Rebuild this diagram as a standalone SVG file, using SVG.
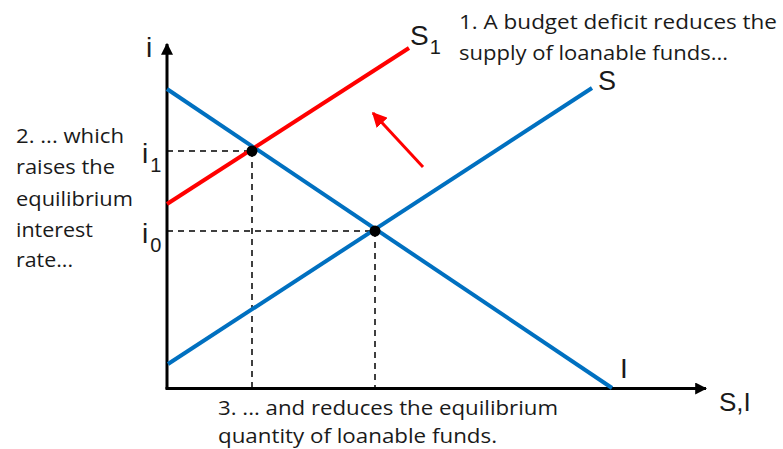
<svg xmlns="http://www.w3.org/2000/svg" width="783" height="449" viewBox="0 0 783 449">
<defs>
<marker id="ah" viewBox="0 0 10 10" refX="9" refY="5" markerWidth="4" markerHeight="4" orient="auto" markerUnits="strokeWidth"><path d="M0,0 L10,5 L0,10 z" fill="#000"/></marker>
<marker id="rh" viewBox="0 0 10 10" refX="9" refY="5" markerWidth="5" markerHeight="5" orient="auto" markerUnits="strokeWidth"><path d="M0,0 L10,5 L0,10 z" fill="#FF0000"/></marker>
<style>
text{font-family:"Open Sans","Liberation Sans",Arial,sans-serif;fill:#1a1a1a}
.t{font-size:20px}
.lbl{font-size:28px;font-family:"Liberation Sans",Arial,sans-serif}
.sub{font-size:20px}
.axis{stroke:#000;stroke-width:3;fill:none}
.blue{stroke:#0070C0;stroke-width:4;fill:none}
.red{stroke:#FF0000;stroke-width:4;fill:none}
.dash{stroke:#000;stroke-width:1.5;stroke-dasharray:6,5;fill:none}
</style>
</defs>
<rect width="783" height="449" fill="#fff"/>
<g id="axes">
<line class="axis" x1="167" y1="389" x2="167" y2="44" marker-end="url(#ah)"/>
<line class="axis" x1="165.5" y1="388.5" x2="706" y2="388.5" marker-end="url(#ah)"/>
<text class="lbl" x="146" y="57">i</text>
<text class="lbl" x="719" y="411" style="font-size:26px">S,I</text>
</g>
<g id="guides">
<line class="dash" x1="167" y1="151" x2="252" y2="151"/>
<line class="dash" x1="252" y1="151" x2="252" y2="388"/>
<line class="dash" x1="167" y1="231" x2="375" y2="231"/>
<line class="dash" x1="375" y1="231" x2="375" y2="388"/>
</g>
<g id="curve-I">
<line class="blue" x1="167" y1="89" x2="612" y2="388"/>
<text class="lbl" x="620" y="378">I</text>
</g>
<g id="curve-S">
<line class="blue" x1="168" y1="364" x2="592" y2="88"/>
<text class="lbl" x="598" y="90" style="font-size:27px">S</text>
</g>
<g id="curve-S1">
<line class="red" x1="167" y1="204" x2="409" y2="48"/>
<text class="lbl" x="410" y="45">S<tspan class="sub" dx="1" dy="9">1</tspan></text>
</g>
<g id="connectors">
<line stroke="#FF0000" stroke-width="3" x1="423" y1="167" x2="373" y2="113" marker-end="url(#rh)"/>
</g>
<g id="eq1"><circle cx="252" cy="151" r="5.5" fill="#000"/></g>
<g id="eq0"><circle cx="375" cy="231" r="5.5" fill="#000"/></g>
<g id="label-i1"><text class="lbl" x="142" y="163">i<tspan class="sub" dx="2" dy="9">1</tspan></text></g>
<g id="label-i0"><text class="lbl" x="142" y="243">i<tspan class="sub" dx="2" dy="9">0</tspan></text></g>
<g id="note1">
<text class="t" x="459" y="29" textLength="318" lengthAdjust="spacingAndGlyphs">1. A budget deficit reduces the</text>
<text class="t" x="459" y="60" textLength="269" lengthAdjust="spacingAndGlyphs">supply of loanable funds...</text>
</g>
<g id="note2">
<text class="t" x="16" y="143" textLength="108" lengthAdjust="spacingAndGlyphs">2. ... which</text>
<text class="t" x="16" y="174" textLength="99" lengthAdjust="spacingAndGlyphs">raises the</text>
<text class="t" x="16" y="206" textLength="117" lengthAdjust="spacingAndGlyphs">equilibrium</text>
<text class="t" x="16" y="237" textLength="77" lengthAdjust="spacingAndGlyphs">interest</text>
<text class="t" x="16" y="267" textLength="57" lengthAdjust="spacingAndGlyphs">rate...</text>
</g>
<g id="note3">
<text class="t" x="218" y="415" textLength="340" lengthAdjust="spacingAndGlyphs">3. ... and reduces the equilibrium</text>
<text class="t" x="218" y="443" textLength="279" lengthAdjust="spacingAndGlyphs">quantity of loanable funds.</text>
</g>
</svg>
